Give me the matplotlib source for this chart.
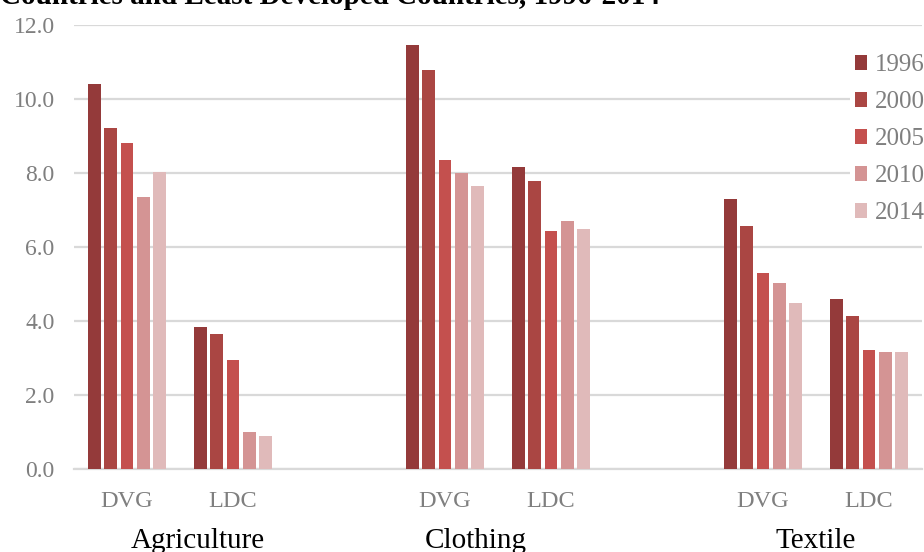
import matplotlib
matplotlib.use("Agg")
import matplotlib.pyplot as plt
import numpy as np

# Export share data by sector and country group
sectors = ["Agriculture", "Clothing", "Textile"]
groups = ["DVG", "LDC"]
years = ["1996", "2000", "2005", "2010", "2014"]

agriculture_dvg = [10.40, 9.22, 8.82, 7.34, 8.04]
agriculture_ldc = [3.84, 3.64, 2.95, 1.00, 0.89]
clothing_dvg = [11.46, 10.78, 8.35, 8.00, 7.65]
clothing_ldc = [8.16, 7.78, 6.42, 6.71, 6.49]
textile_dvg = [7.30, 6.57, 5.29, 5.03, 4.48]
textile_ldc = [4.59, 4.14, 3.21, 3.15, 3.16]

yticks = [0, 2, 4, 6, 8, 10, 12]
year_colors = ["#943a3a", "#aa4643", "#c4504e", "#d49494", "#e0baba"]

series = [agriculture_dvg, agriculture_ldc,
          clothing_dvg, clothing_ldc,
          textile_dvg, textile_ldc]
# category slots: two per sector, with an empty slot between sectors
slots = [0, 1, 3, 4, 6, 7]
# horizontal placement of the sector captions, in slot units
sector_label_x = [0.67, 3.29, 6.50]

plt.rcParams["font.family"] = ["Liberation Serif", "DejaVu Serif"]

fig = plt.figure(figsize=(9.24, 5.52), dpi=100)
ax = fig.add_axes([74 / 924, 83 / 552, (922 - 74) / 924, (469 - 25) / 552])

pitch = 0.1533
width = 0.122
for k, year in enumerate(years):
    vals = [s[k] for s in series]
    xs = np.array(slots) + (k - 2) * pitch
    ax.bar(xs, vals, width=width, color=year_colors[k], label=year,
           edgecolor="none", zorder=3)

ax.set_xlim(-0.5, 7.5)
ax.set_ylim(0, 12)
ax.set_yticks(yticks)
ax.set_yticklabels([f"{v:.1f}" for v in yticks])
ax.tick_params(axis="y", length=0, pad=14, labelsize=17, labelcolor="#7f7f7f")
ax.set_xticks(slots)
ax.set_xticklabels(groups * 3)
ax.tick_params(axis="x", length=0, pad=16, labelsize=17.5, labelcolor="#7f7f7f")
ax.grid(axis="y", color="#d9d9d9", linewidth=1.6, zorder=0)
for side in ["top", "right", "left"]:
    ax.spines[side].set_visible(False)
ax.spines["bottom"].set_color("#d9d9d9")
ax.spines["bottom"].set_linewidth(1.6)

for name, xpos in zip(sectors, sector_label_x):
    ax.text(xpos, -0.178, name, transform=ax.get_xaxis_transform(),
            ha="center", va="baseline", fontsize=21, color="black")

leg = ax.legend(loc="upper left", bbox_to_anchor=(0.915, 0.945),
                frameon=True, facecolor="white", edgecolor="none",
                framealpha=1, fontsize=18, handlelength=0.5,
                handleheight=0.5, handletextpad=0.3, labelspacing=0.6,
                borderpad=0.2, borderaxespad=0)
for t in leg.get_texts():
    t.set_color("#7f7f7f")

fig.text(0.0, 1 - 4 / 552,
         "Countries and Least Developed Countries, 1996-2014",
         ha="left", va="baseline", fontsize=21, fontweight="bold",
         color="black")

fig.savefig("out.png", dpi=100)
